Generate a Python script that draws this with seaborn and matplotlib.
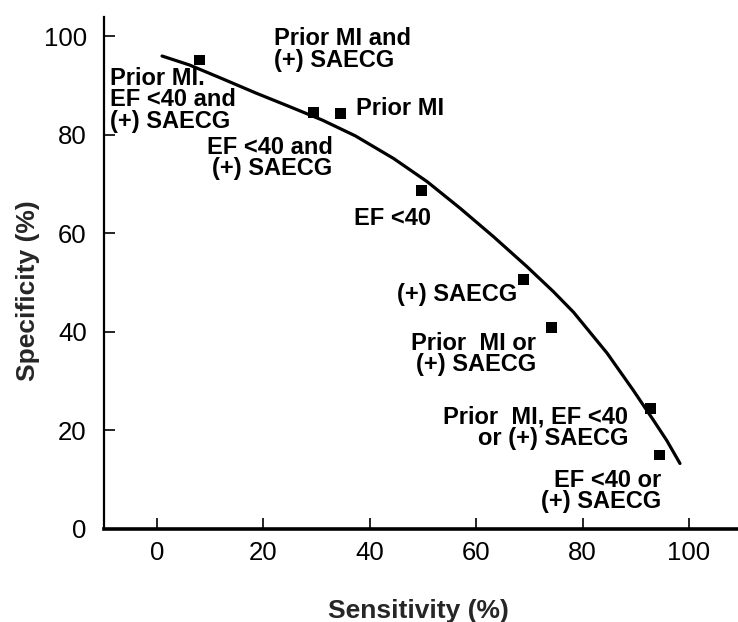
import matplotlib
matplotlib.use("Agg")
import matplotlib.pyplot as plt
import seaborn as sns
import pandas as pd

# --- data ---
labels = [
    "Prior MI.\nEF <40 and\n(+) SAECG",
    "EF <40 and\n(+) SAECG",
    "Prior MI",
    "EF <40",
    "(+) SAECG",
    "Prior  MI or\n(+) SAECG",
    "Prior  MI, EF <40\nor (+) SAECG",
    "EF <40 or\n(+) SAECG",
]
sensitivity = [8.1, 29.4, 34.5, 49.8, 68.9, 74.1, 92.8, 94.4]
specificity = [95.2, 84.5, 84.3, 68.7, 50.7, 40.9, 24.5, 15.0]

extra_label = "Prior MI and\n(+) SAECG"

curve_sens = [1.0, 6.1, 12.3, 18.6, 24.8, 31.1, 37.3, 44.5, 50.8, 57.0,
              63.3, 69.5, 74.5, 78.3, 84.6, 89.5, 93.3, 95.8, 98.3]
curve_spec = [96.0, 94.2, 91.4, 88.5, 85.8, 83.0, 79.8, 75.2, 70.5, 65.1,
              59.3, 53.3, 48.2, 44.0, 35.7, 28.2, 22.1, 18.0, 13.3]

x_ticks = [0, 20, 40, 60, 80, 100]
y_ticks = [0, 20, 40, 60, 80, 100]

pts = pd.DataFrame({"Sensitivity": sensitivity, "Specificity": specificity, "label": labels})
curve = pd.DataFrame({"Sensitivity": curve_sens, "Specificity": curve_spec})

sns.set_theme(style="ticks")
plt.rcParams["font.family"] = ["Liberation Sans", "DejaVu Sans"]

fig = plt.figure(figsize=(7.38, 6.22), dpi=100)
ax = fig.add_axes([103.5 / 738, 93 / 622, (738 - 103.5) / 738, (529 - 16.6) / 622])

sns.lineplot(data=curve, x="Sensitivity", y="Specificity", ax=ax, color="black",
             linewidth=2.3, sort=False, estimator=None)
sns.scatterplot(data=pts, x="Sensitivity", y="Specificity", ax=ax, marker="s",
                color="black", s=60, edgecolor="none", zorder=3)

ax.set_xlim(-10, 109.2)
ax.set_ylim(0, 104)
ax.set_xticks(x_ticks)
ax.set_yticks(y_ticks)
ax.tick_params(axis="both", direction="in", length=8, width=1.2, labelsize=18.5,
               colors="black")
ax.tick_params(axis="x", pad=9)
ax.tick_params(axis="y", pad=12)
for side in ["top", "right"]:
    ax.spines[side].set_visible(False)
ax.spines["bottom"].set_linewidth(2.6)
ax.spines["left"].set_linewidth(1.6)
ax.spines["bottom"].set_color("black")
ax.spines["left"].set_color("black")

label_font = dict(fontsize=19, fontweight="bold")
ax.set_xlabel("Sensitivity (%)", **label_font)
ax.set_ylabel("Specificity (%)", **label_font)
ax.xaxis.set_label_coords(0.496, -0.16)
ax.xaxis.label.set_va("center")
ax.yaxis.set_label_coords(-0.119, 0.466)
ax.yaxis.label.set_va("center")

ann = dict(fontsize=17, fontweight="bold", color="black", linespacing=0.92)
# label placements (anchor positions in data units)
pos = [
    (-8.8, 93.8, "left", "top"),
    (33.0, 79.8, "right", "top"),
    (37.5, 85.4, "left", "center"),
    (37.1, 63.1, "left", "center"),
    (67.7, 47.5, "right", "center"),
    (71.3, 40.0, "right", "top"),
    (88.6, 25.0, "right", "top"),
    (94.7, 12.2, "right", "top"),
]
for (tx, ty, ha, va), lab in zip(pos, pts["label"]):
    ax.text(tx, ty, lab, ha=ha, va=va, **ann)
ax.text(22.1, 101.9, extra_label, ha="left", va="top", **ann)

fig.savefig("out.png", dpi=100)
